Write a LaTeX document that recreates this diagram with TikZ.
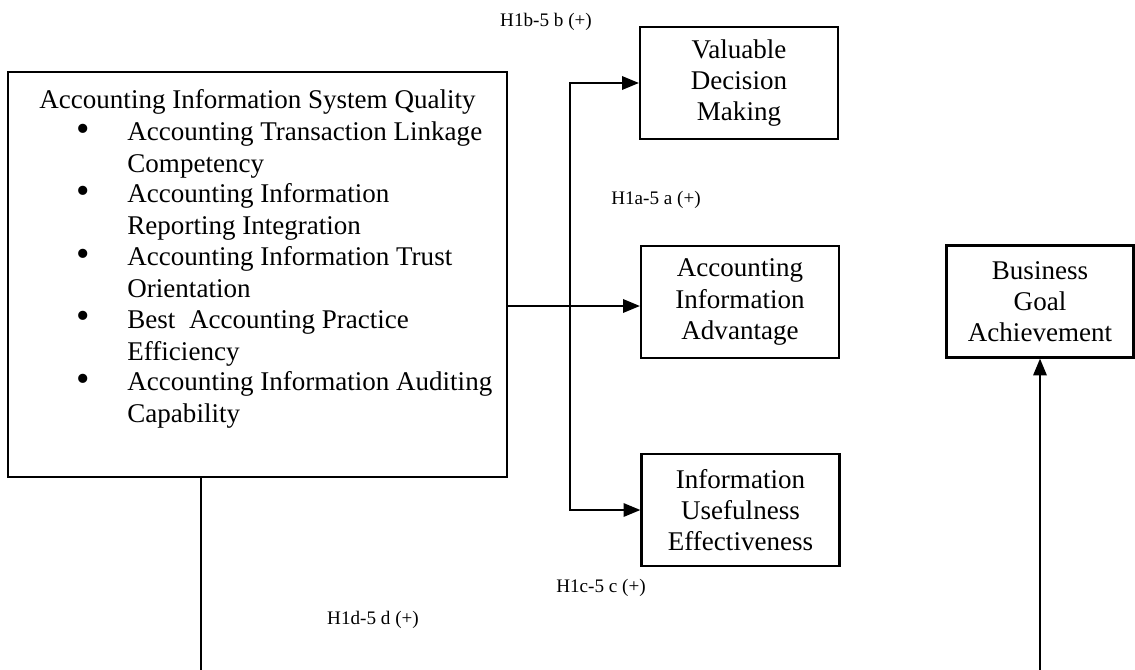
\documentclass[tikz,border=0pt]{standalone}
\usepackage{fontspec}
\setmainfont{Liberation Serif}
\usetikzlibrary{arrows.meta}
\begin{document}
\begin{tikzpicture}[x=0.444pt,y=-0.444pt,
  boxfont/.style={font=\fontsize{12}{13.9}\selectfont},
  box/.style={draw, line width=1pt, minimum width=87.9pt, minimum height=49.7pt,
              align=center, inner sep=0pt, boxfont},
  conn/.style={line width=0.8pt},
  arr/.style={conn, -{Triangle[length=7.5pt,width=6pt]}},
  hyp/.style={font=\fontsize{8.5}{10}\selectfont, inner sep=0pt},
  body/.style={boxfont, inner sep=0pt, align=left, anchor=base west},
  dot/.style={font=\fontsize{17}{17}\selectfont, inner sep=0pt}]
\useasboundingbox (0,0) rectangle (1135,670);

% antecedent construct with its five dimensions
\node[draw, line width=1pt, minimum width=221.6pt, minimum height=179.8pt, inner sep=0pt]
  (ais) at (257.5,274.5) {};
\node[boxfont, inner sep=0pt, anchor=base] (title) at (257.5,108) {Accounting Information System Quality};
% each item is anchored at the baseline of its second line
\node[dot] (b1) at (83,133) {•};
\node[body] (d1) at (127,172) {Accounting Transaction Linkage\\Competency};
\node[dot] (b2) at (83,195) {•};
\node[body] (d2) at (127,234) {Accounting Information\\Reporting Integration};
\node[dot] (b3) at (83,258) {•};
\node[body] (d3) at (127,297) {Accounting Information Trust\\Orientation};
\node[dot] (b4) at (83,320) {•};
\node[body] (d4) at (127,360) {Best\ \ Accounting Practice\\Efficiency};
\node[dot] (b5) at (83,383) {•};
\node[body] (d5) at (127,422) {Accounting Information Auditing\\Capability};

% consequences
\node[box] (vdm) at (739,83)  {Valuable\\Decision\\Making};
\node[box] (aia) at (740,302) {Accounting\\Information\\Advantage};
\node[box] (iue) at (740.5,510) {Information\\Usefulness\\Effectiveness};
\node[box, minimum width=83pt] (bga) at (1040,301.5) {Business\\Goal\\Achievement};

% hypothesis labels
\node[hyp] (h1b) at (546,22)  {H1b-5 b (+)};
\node[hyp] (h1a) at (656,200) {H1a-5 a (+)};
\node[hyp] (h1c) at (601,588) {H1c-5 c (+)};
\node[hyp] (h1d) at (373,620) {H1d-5 d (+)};

% connectors
\coordinate (split) at (570,0);
\coordinate (lowL) at (201,670);
\coordinate (lowR) at (1040,670);
\draw[arr] (ais.east |- 0,306) -- (aia.west |- 0,306);
\draw[arr] (split |- iue.west) -- (split |- vdm.west) -- (vdm.west);
\draw[arr] (split |- vdm.west) -- (split |- iue.west) -- (iue.west);
\draw[conn] (ais.south -| lowL) -- (lowL);
\draw[arr] (lowR) -- (bga.south);
\end{tikzpicture}
\end{document}
